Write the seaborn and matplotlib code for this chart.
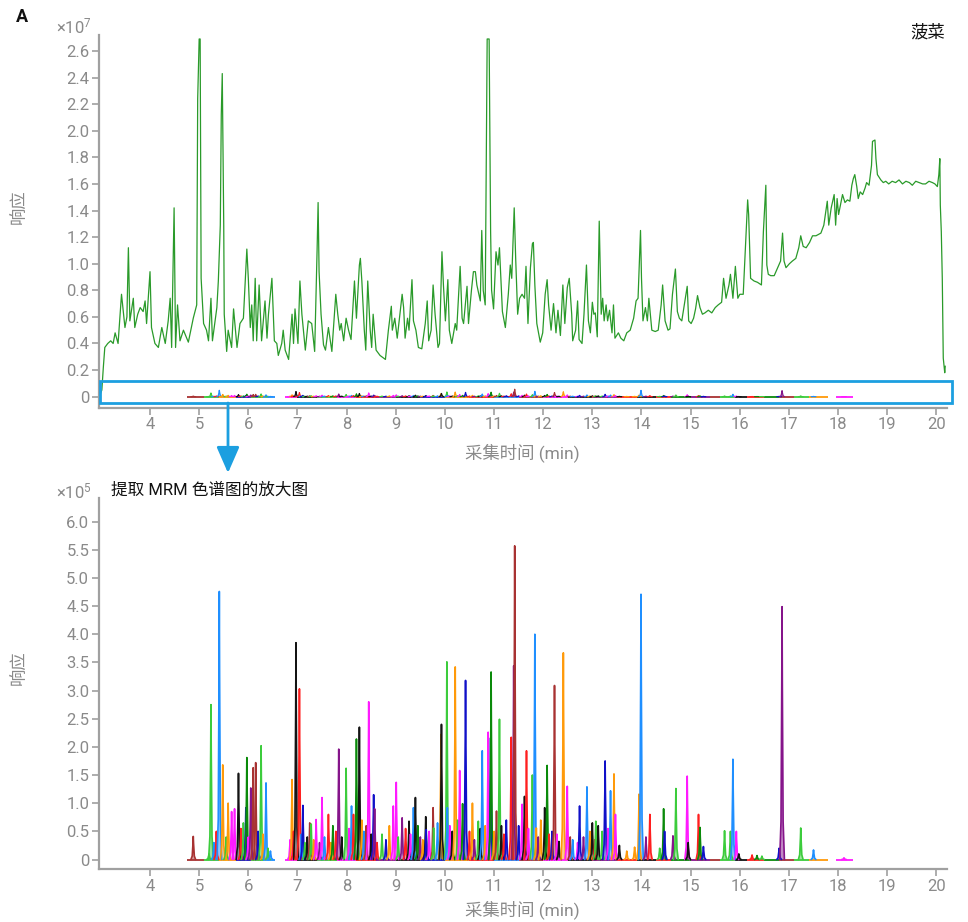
import numpy as np
import pandas as pd
import matplotlib
matplotlib.use("Agg")
import matplotlib.pyplot as plt
from matplotlib.patches import Rectangle, FancyArrowPatch
import seaborn as sns

# ---------------- data ----------------
# total ion chromatogram (response in units of 1e7)
tic_time = [
    2.99, 3.02, 3.05, 3.08, 3.14, 3.20, 3.25, 3.29, 3.35, 3.42, 3.49, 3.53, 3.56, 3.59, 3.66,
    3.69, 3.75, 3.80, 3.86, 3.90, 3.93, 4.00, 4.03, 4.10, 4.17, 4.24, 4.31, 4.37, 4.41, 4.44,
    4.49, 4.52, 4.56, 4.61, 4.68, 4.78, 4.88, 4.95, 4.97, 5.00, 5.02, 5.04, 5.09, 5.15, 5.19,
    5.24, 5.27, 5.36, 5.39, 5.43, 5.45, 5.47, 5.50, 5.51, 5.56, 5.59, 5.66, 5.70, 5.77, 5.83,
    5.90, 5.97, 6.00, 6.04, 6.07, 6.10, 6.14, 6.17, 6.22, 6.27, 6.34, 6.38, 6.41, 6.48, 6.53,
    6.58, 6.61, 6.68, 6.71, 6.75, 6.82, 6.89, 6.92, 6.95, 7.01, 7.05, 7.09, 7.16,
    7.22, 7.29, 7.35, 7.40, 7.42, 7.44, 7.48, 7.53, 7.57, 7.63, 7.70, 7.78, 7.82, 7.86, 7.89,
    7.94, 7.99, 8.04, 8.09, 8.16, 8.20, 8.26, 8.28, 8.31, 8.36, 8.39, 8.43, 8.48, 8.51, 8.54,
    8.60, 8.68, 8.79, 8.85, 8.91, 8.93, 8.98, 9.03, 9.07, 9.13, 9.16, 9.19, 9.24, 9.27, 9.33,
    9.36, 9.41, 9.46, 9.53, 9.60, 9.64, 9.67, 9.72, 9.76, 9.80, 9.86, 9.89, 9.94, 9.97, 10.01,
    10.06, 10.09, 10.14, 10.21, 10.24, 10.31, 10.35, 10.38, 10.45, 10.48, 10.54, 10.58, 10.62,
    10.65, 10.72, 10.75, 10.78, 10.82, 10.86, 10.90, 10.93, 10.95, 10.99, 11.04, 11.08, 11.11,
    11.17, 11.23, 11.29, 11.33, 11.36, 11.41, 11.44, 11.48, 11.52, 11.57, 11.62, 11.65, 11.69,
    11.74, 11.78, 11.80, 11.83, 11.87, 11.94, 11.99, 12.04, 12.08, 12.11, 12.16, 12.21, 12.26,
    12.30, 12.35, 12.40, 12.44, 12.49, 12.53, 12.58, 12.60, 12.66, 12.70, 12.73, 12.79, 12.83,
    12.88, 12.92, 12.96, 13.00, 13.03, 13.06, 13.10, 13.14, 13.18, 13.21, 13.24, 13.28, 13.31,
    13.35, 13.40, 13.43, 13.46, 13.53, 13.58, 13.64, 13.70, 13.77, 13.84, 13.89, 13.93, 13.98,
    14.00, 14.03, 14.08, 14.12, 14.15, 14.21, 14.28, 14.34, 14.40, 14.43, 14.48, 14.54, 14.58,
    14.63, 14.69, 14.73, 14.77, 14.82, 14.87, 14.93, 14.96, 15.01, 15.06, 15.10, 15.14, 15.19,
    15.24, 15.29, 15.36, 15.43, 15.50, 15.56, 15.63, 15.67, 15.72,
    15.78, 15.81, 15.86, 15.91, 15.96, 16.00, 16.07, 16.13, 16.16, 16.18, 16.22, 16.29, 16.36,
    16.44, 16.48, 16.53, 16.55, 16.58, 16.63, 16.70, 16.77, 16.83, 16.87, 16.90, 16.94, 17.01,
    17.07, 17.14, 17.20, 17.24, 17.29, 17.35, 17.42, 17.48, 17.55, 17.65, 17.71, 17.75, 17.78,
    17.81, 17.86, 17.92, 17.95, 17.98, 18.01, 18.09, 18.14, 18.19, 18.24, 18.28, 18.31, 18.34,
    18.38, 18.41, 18.45, 18.50, 18.55, 18.58, 18.63, 18.68, 18.70, 18.75, 18.77, 18.80, 18.87,
    18.92, 18.97, 19.03, 19.10, 19.17, 19.24, 19.31, 19.38, 19.45, 19.51, 19.58, 19.65, 19.72,
    19.78, 19.85, 19.92, 19.97, 20.02, 20.05, 20.07, 20.08, 20.10, 20.12, 20.14, 20.17, 20.18,
]
tic_resp = [
    0.02, 0.05, 0.22, 0.37, 0.40, 0.42, 0.40, 0.48, 0.40, 0.77, 0.52, 0.60, 1.12, 0.57, 0.74,
    0.52, 0.62, 0.67, 0.64, 0.72, 0.55, 0.94, 0.52, 0.40, 0.37, 0.52, 0.40, 0.57, 0.74, 0.37,
    1.42, 0.37, 0.69, 0.42, 0.50, 0.41, 0.59, 0.69, 2.24, 2.69, 2.69, 0.89, 0.55, 0.50, 0.42,
    0.74, 0.42, 0.67, 0.87, 1.29, 2.12, 2.43, 1.29, 0.62, 0.34, 0.50, 0.37, 0.66, 0.37, 0.55,
    0.59, 1.11, 0.89, 0.52, 0.69, 0.42, 0.89, 0.42, 0.84, 0.42, 0.72, 0.44, 0.62, 0.89, 0.42,
    0.40, 0.31, 0.40, 0.50, 0.35, 0.28, 0.62, 0.40, 0.66, 0.40, 0.87, 0.62, 0.35,
    0.57, 0.55, 0.34, 1.11, 1.46, 0.94, 0.62, 0.39, 0.35, 0.52, 0.34, 0.77, 0.62, 0.50, 0.55,
    0.42, 0.59, 0.50, 0.43, 0.87, 0.59, 0.99, 1.04, 0.87, 0.50, 0.35, 0.87, 0.50, 0.37, 0.62,
    0.35, 0.31, 0.28, 0.50, 0.68, 0.50, 0.59, 0.44, 0.57, 0.77, 0.67, 0.44, 0.59, 0.50, 0.88,
    0.57, 0.50, 0.37, 0.36, 0.55, 0.72, 0.42, 0.50, 0.84, 0.62, 0.37, 0.40, 1.09, 0.84, 0.57,
    0.88, 0.50, 0.40, 0.55, 0.50, 0.98, 0.59, 0.55, 0.83, 0.55, 0.80, 0.94, 0.94,
    0.84, 0.72, 1.25, 0.80, 0.69, 2.69, 2.69, 1.24, 0.80, 0.66, 1.09, 0.99, 1.12,
    0.64, 0.52, 0.77, 0.99, 0.89, 1.42, 1.04, 0.62, 0.74, 0.77, 0.74, 0.98, 0.55,
    0.97, 1.15, 1.16, 0.84, 0.55, 0.41, 0.48, 0.77, 0.88, 0.69, 0.50, 0.70, 0.48,
    0.65, 0.46, 0.84, 0.55, 0.82, 0.89, 0.62, 0.42, 0.50, 0.72, 0.43, 0.40, 0.62,
    0.99, 0.57, 0.48, 0.71, 0.62, 0.63, 0.45, 1.32, 0.62, 0.74, 0.57, 0.69, 0.57,
    0.65, 0.48, 0.69, 0.44, 0.48, 0.44, 0.42, 0.48, 0.50, 0.59, 0.72, 0.74, 1.25,
    0.89, 0.57, 0.67, 0.57, 0.74, 0.50, 0.49, 0.50, 0.69, 0.84, 0.57, 0.50, 0.51,
    0.77, 0.96, 0.64, 0.59, 0.57, 0.69, 0.83, 0.57, 0.55, 0.59, 0.66, 0.76, 0.67,
    0.62, 0.63, 0.65, 0.63, 0.67, 0.69, 0.71, 0.89, 0.74,
    0.84, 0.92, 0.74, 0.98, 0.74, 0.77, 0.77, 1.24, 1.48, 1.37, 0.89, 0.87, 0.86,
    0.84, 1.24, 1.59, 0.99, 0.92, 0.91, 0.91, 0.97, 1.02, 1.23, 1.02, 0.97, 1.00,
    1.02, 1.04, 1.12, 1.21, 1.13, 1.12, 1.16, 1.21, 1.21, 1.23, 1.29, 1.39, 1.47,
    1.29, 1.42, 1.52, 1.29, 1.49, 1.37, 1.52, 1.46, 1.48, 1.47, 1.59, 1.64, 1.67,
    1.58, 1.49, 1.54, 1.52, 1.57, 1.61, 1.59, 1.74, 1.92, 1.93, 1.79, 1.67, 1.63,
    1.61, 1.62, 1.60, 1.62, 1.61, 1.63, 1.60, 1.62, 1.61, 1.59, 1.62, 1.61, 1.60,
    1.60, 1.62, 1.61, 1.60, 1.58, 1.67, 1.79, 1.44, 1.24, 0.89, 0.29, 0.18, 0.23,
]

# extracted MRM peaks: retention time (min), apex response (units of 1e5), trace colour
peak_rt = [
    4.88, 5.20, 5.24, 5.30, 5.35, 5.41, 5.48, 5.55, 5.59, 5.66, 5.72, 5.80, 5.85, 5.90, 5.95,
    5.97, 6.00, 6.05, 6.10, 6.15, 6.20, 6.26, 6.30, 6.36, 6.40, 6.45,
    6.85, 6.89, 6.92, 6.97, 7.04, 7.08, 7.11, 7.15, 7.20, 7.25, 7.28, 7.33, 7.38, 7.45, 7.50,
    7.55, 7.63, 7.68, 7.72, 7.78, 7.84, 7.90, 7.99, 8.05, 8.10, 8.14, 8.20, 8.26, 8.31, 8.35,
    8.40, 8.45, 8.50, 8.55, 8.57, 8.62, 8.72, 8.80, 8.87, 8.95, 9.01, 9.05, 9.13, 9.20, 9.27,
    9.30, 9.36, 9.40, 9.45, 9.50, 9.55, 9.61, 9.62, 9.68, 9.76, 9.77, 9.85, 9.92, 9.93, 10.04,
    10.05, 10.10, 10.15, 10.21, 10.26, 10.30, 10.36, 10.42, 10.50, 10.56, 10.60, 10.68, 10.72,
    10.76, 10.82, 10.88, 10.93, 10.94, 11.00, 11.05, 11.11, 11.15, 11.20, 11.25, 11.35, 11.40,
    11.42, 11.50, 11.57, 11.62, 11.66, 11.70, 11.78, 11.83, 11.86, 11.90, 11.95, 12.03, 12.08,
    12.12, 12.18, 12.23, 12.28, 12.32, 12.41, 12.49, 12.55, 12.60, 12.70, 12.74, 12.82, 12.89,
    12.95, 13.00, 13.05, 13.07, 13.12, 13.20, 13.26, 13.32, 13.37, 13.44, 13.47, 13.55, 13.70,
    13.86, 13.95, 13.99, 14.09, 14.17, 14.37, 14.45, 14.47, 14.64, 14.70, 14.93, 14.95, 15.16,
    15.19, 15.26, 15.69, 15.81, 15.86, 15.93, 15.98, 16.25, 16.35, 16.45, 16.80, 16.86, 17.24,
    17.50, 18.12,
]
peak_height = [
    0.41, 0.10, 2.75, 0.30, 0.50, 4.76, 1.68, 0.40, 1.00, 0.85, 0.90, 1.53, 0.55, 0.65, 0.92,
    1.81, 0.40, 1.27, 1.63, 1.72, 0.50, 2.02, 0.45, 1.36, 0.20, 0.15,
    0.35, 1.42, 0.50, 3.85, 3.03, 0.45, 0.96, 0.30, 0.40, 0.65, 0.63, 0.35, 0.71, 0.30, 1.10,
    0.40, 0.80, 0.30, 0.60, 0.50, 1.96, 0.40, 1.62, 0.55, 0.95, 0.80, 2.14, 2.35, 0.70, 0.50,
    0.60, 2.80, 0.45, 1.15, 0.90, 0.30, 0.45, 0.35, 0.60, 0.95, 1.37, 0.40, 0.74, 0.55, 0.68,
    0.45, 0.92, 1.10, 0.60, 0.40, 0.35, 0.76, 0.53, 0.50, 0.92, 0.56, 0.65, 2.22, 2.40, 3.51,
    0.92, 0.60, 0.50, 3.42, 0.70, 1.58, 0.99, 3.18, 0.50, 1.00, 0.35, 0.68, 0.55,
    1.93, 0.60, 2.26, 2.16, 3.33, 0.50, 0.86, 2.49, 0.60, 0.45, 0.70, 2.17, 3.44,
    5.57, 0.60, 0.98, 1.12, 1.93, 0.55, 1.50, 4.00, 0.56, 0.40, 0.70, 0.92, 1.67,
    0.45, 0.50, 3.09, 0.45, 0.32, 3.67, 1.30, 0.40, 0.35, 0.30, 0.95, 0.40, 1.29,
    0.50, 0.65, 0.35, 0.68, 0.60, 0.50, 1.75, 0.55, 1.22, 1.52, 0.80, 0.25, 0.15,
    0.22, 1.16, 4.71, 0.40, 0.80, 0.20, 0.90, 0.50, 0.42, 1.26, 1.48, 0.30, 0.80,
    0.57, 0.23, 0.51, 0.50, 1.78, 0.50, 0.10, 0.08, 0.07, 0.06, 0.20, 4.49, 0.56,
    0.17, 0.03,
]
peak_color = [
    "brown", "green", "green", "blue", "red", "blue", "orange", "green", "orange", "magenta",
    "magenta", "black", "red", "green", "navy", "dkgreen", "magenta", "purple", "brown", "brown",
    "navy", "green", "orange", "blue", "green", "blue",
    "magenta", "orange", "red", "black", "red", "blue", "navy", "green", "black", "brown",
    "green", "orange", "magenta", "purple", "magenta", "blue", "red", "orange", "dkgreen", "red",
    "purple", "black", "green", "magenta", "blue", "red", "dkgreen", "black", "orange", "blue",
    "brown", "magenta", "black", "navy", "purple", "red", "green", "navy", "orange", "magenta",
    "magenta", "green", "purple", "red", "black", "magenta", "blue", "black", "dkgreen", "purple",
    "orange", "black", "navy", "magenta", "brown", "green", "blue", "orange", "black", "green",
    "blue", "magenta", "black", "orange", "green", "magenta", "dkgreen", "navy", "red", "orange",
    "purple", "green", "black", "blue", "orange", "magenta", "navy", "dkgreen", "orange", "brown",
    "green", "black", "red", "navy", "red", "purple", "brown", "navy", "magenta", "black",
    "red", "magenta", "green", "blue", "orange", "purple", "orange", "black", "dkgreen", "red",
    "navy", "brown", "magenta", "black", "orange", "magenta", "brown", "blue", "magenta", "navy",
    "purple", "blue", "orange", "black", "red", "green", "black", "green", "navy", "magenta",
    "blue", "orange", "magenta", "black", "orange", "orange", "orange", "blue", "purple", "red",
    "green", "dkgreen", "navy", "purple", "green", "magenta", "black", "red", "dkgreen", "navy",
    "green", "green", "blue", "magenta", "black", "red", "dkgreen", "green", "navy", "purple",
    "green", "blue", "magenta",
]

# baseline stretches of the MRM traces: start, end, colour
base_start = [4.75, 5.10, 5.40, 5.75, 6.05, 6.30, 6.75, 7.00, 7.40, 7.80, 8.20, 8.60, 9.00,
              9.50, 10.00, 10.50, 11.00, 11.50, 12.00, 12.50, 13.00, 13.50, 13.90, 14.30,
              14.60, 15.00, 15.40, 15.60, 15.90, 16.15, 16.50, 16.80, 17.10, 17.40, 17.95]
base_end = [5.10, 5.40, 5.75, 6.05, 6.30, 6.55, 7.00, 7.40, 7.80, 8.20, 8.60, 9.00, 9.50,
            10.00, 10.50, 11.00, 11.50, 12.00, 12.50, 13.00, 13.50, 13.90, 14.30, 14.60,
            15.00, 15.40, 15.60, 15.90, 16.15, 16.50, 16.80, 17.10, 17.40, 17.80, 18.30]
base_color = ["brown", "green", "orange", "navy", "green", "blue", "magenta", "black", "green",
              "magenta", "red", "purple", "black", "navy", "orange", "red", "blue", "brown",
              "magenta", "black", "purple", "red", "black", "red", "dkgreen", "purple", "brown",
              "green", "black", "red", "dkgreen", "brown", "green", "orange", "magenta"]

top_yticks = [0, 0.2, 0.4, 0.6, 0.8, 1.0, 1.2, 1.4, 1.6, 1.8, 2.0, 2.2, 2.4, 2.6]
bottom_yticks = [0, 0.5, 1.0, 1.5, 2.0, 2.5, 3.0, 3.5, 4.0, 4.5, 5.0, 5.5, 6.0]
xticks = list(range(4, 21))

# ---------------- style ----------------
trace_colors = {
    "red": "#ff1f1f", "green": "#3ccc3c", "blue": "#1f8fff", "orange": "#ff9a0a",
    "magenta": "#ff1aff", "black": "#141414", "brown": "#a83232", "purple": "#85148a",
    "dkgreen": "#0a8a0a", "navy": "#1010c8",
}
GRAY = "#8a8a8a"
SPINE = "#a0a0a0"
BOX_BLUE = "#1c9fe0"

sns.set_style("white")
plt.rcParams["font.family"] = ["Roboto", "Noto Sans CJK SC", "DejaVu Sans"]
plt.rcParams["mathtext.fontset"] = "custom"
plt.rcParams["mathtext.rm"] = "Roboto"
plt.rcParams["mathtext.it"] = "Roboto"

W, H = 968, 922
fig = plt.figure(figsize=(W / 100, H / 100), dpi=100)


def fx(px):
    return px / W


def fy(py):
    return 1 - py / H


XLIM = (2.962, 20.216)
ax_top = fig.add_axes([fx(99), fy(407.7), fx(947) - fx(99), fy(35) - fy(407.7)])
ax_bot = fig.add_axes([fx(99), fy(869.3), fx(947) - fx(99), fy(498) - fy(869.3)])


def draw_mrm(ax, scale, lw):
    for s, e, c in zip(base_start, base_end, base_color):
        ax.plot([s, e], [0, 0], color=trace_colors[c], lw=1.3, solid_capstyle="butt")
    hw = 0.048
    for rt, h, c in zip(peak_rt, peak_height, peak_color):
        hh = h * scale
        xs = [rt - hw, rt - 0.45 * hw, rt - 0.12 * hw, rt, rt + 0.12 * hw, rt + 0.45 * hw, rt + hw]
        ys = [0, 0.15 * hh, 0.7 * hh, hh, 0.7 * hh, 0.15 * hh, 0]
        col = trace_colors[c]
        ax.fill(xs, ys, color=col, alpha=0.5, lw=0)
        ax.plot(xs, ys, color=col, lw=lw)


def style_axis(ax, yticks, ylim):
    ax.set_xlim(*XLIM)
    ax.set_ylim(*ylim)
    sns.despine(ax=ax)
    for sp in ("left", "bottom"):
        ax.spines[sp].set_color(SPINE)
        ax.spines[sp].set_linewidth(1.6)
    ax.set_xticks(xticks)
    ax.set_xticklabels([str(v) for v in xticks])
    ax.set_yticks(yticks)
    ax.set_yticklabels(["0" if v == 0 else f"{v:.1f}" for v in yticks])
    ax.tick_params(axis="both", direction="out", length=5, width=1.2, color=SPINE,
                   labelcolor=GRAY, labelsize=12, pad=2, left=True, bottom=True)
    ax.set_xlabel("")
    ax.set_ylabel("")


# top panel: TIC plus the MRM traces on the same (1e7) scale
tic = pd.DataFrame({"time": tic_time, "resp": tic_resp})
sns.lineplot(data=tic, x="time", y="resp", ax=ax_top, color="#2a9a2a", lw=0.9,
             sort=False, estimator=None)
draw_mrm(ax_top, 0.01, 0.9)
style_axis(ax_top, top_yticks, (-0.083, 2.72))

# bottom panel: enlarged MRM traces (1e5)
draw_mrm(ax_bot, 1.0, 1.2)
style_axis(ax_bot, bottom_yticks, (-0.174, 6.42))

# ---------------- annotations ----------------
fig.text(fx(22), fy(17), "A", fontsize=13, fontweight="bold", ha="center", va="center",
         color="#111111")
fig.text(fx(92), fy(26), r"×10$^{7}$", fontsize=12, color=GRAY, ha="right", va="center")
fig.text(fx(92), fy(491), r"×10$^{5}$", fontsize=12, color=GRAY, ha="right", va="center")
fig.text(fx(945), fy(32), "菠菜", fontsize=12.5, color="#111111", ha="right", va="center")
fig.text(fx(111), fy(490), "提取 MRM 色谱图的放大图", fontsize=12, color="#111111",
         ha="left", va="center")

for yc in (207, 668):
    fig.text(fx(20), fy(yc), "响应", fontsize=12.5, color=GRAY, rotation=90,
             ha="center", va="center")
for yc in (453, 910):
    fig.text(fx(522), fy(yc), "采集时间 (min)", fontsize=12.5, color=GRAY,
             ha="center", va="center")

# highlight box around the MRM region of the TIC and the pointer to the zoomed panel
fig.add_artist(Rectangle((fx(100), fy(403)), fx(952) - fx(100), fy(381) - fy(403),
                         transform=fig.transFigure, fill=False, edgecolor=BOX_BLUE, lw=2))
fig.add_artist(FancyArrowPatch((fx(228), fy(403)), (fx(228), fy(473)),
                               transform=fig.transFigure, color=BOX_BLUE, lw=2,
                               arrowstyle="-|>,head_length=0.8,head_width=0.35",
                               mutation_scale=20, shrinkA=0, shrinkB=0))

fig.savefig("out.png", dpi=100)
